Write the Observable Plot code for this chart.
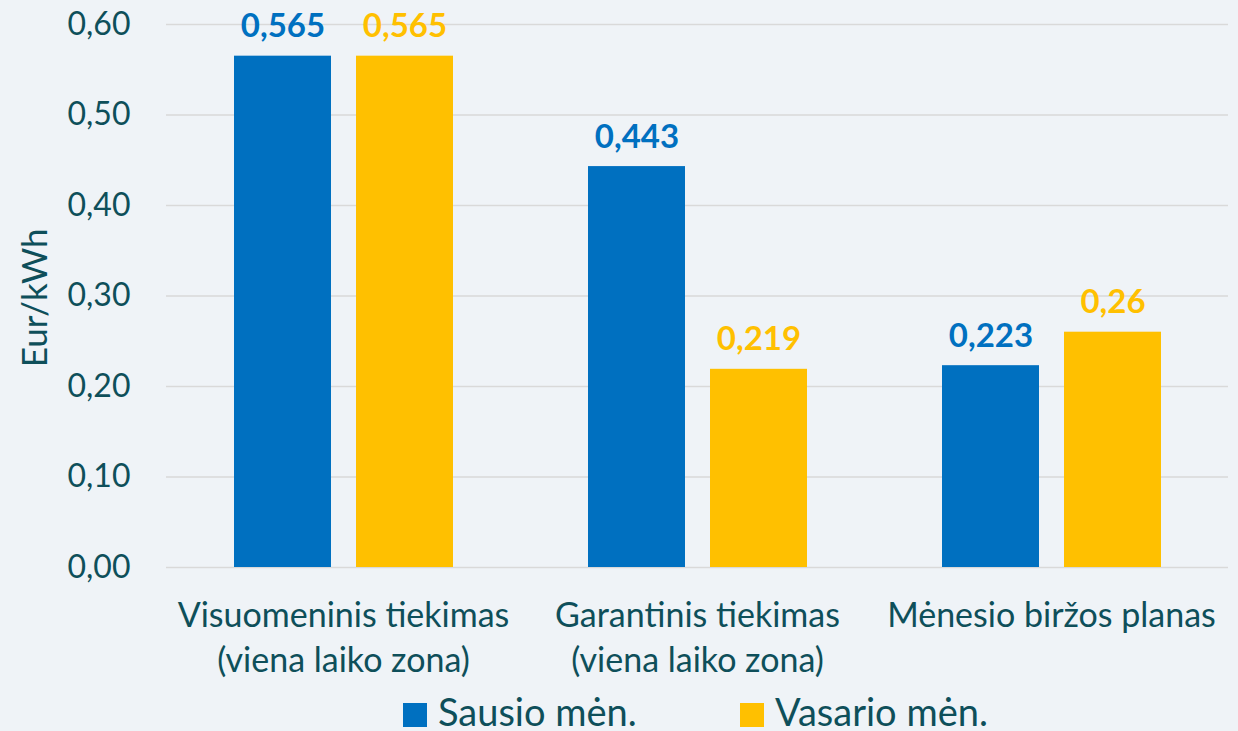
<!DOCTYPE html>
<html>
<head>
<meta charset="utf-8">
<script src="https://cdn.jsdelivr.net/npm/d3@7"></script>
<script src="https://cdn.jsdelivr.net/npm/@observablehq/plot@0.6"></script>
<style>
  html, body { margin: 0; padding: 0; background: #eff3f7; }
  body { width: 1238px; height: 731px; overflow: hidden; position: relative; font-family: Lato, "Open Sans", sans-serif; }
  .item { position: absolute; top: 692px; display: flex; align-items: flex-start; color: #0e4f5a; font-size: 38px; line-height: 38px; white-space: nowrap; }
  .sw { width: 24px; height: 24px; margin-top: 11px; margin-right: 11px; }
</style>
</head>
<body>
<div id="chart"></div>
<div id="legend"></div>
<script>
const categories = ["Visuomeninis tiekimas", "Garantinis tiekimas", "Mėnesio biržos planas"];
const categoryLabels = ["Visuomeninis tiekimas\n(viena laiko zona)", "Garantinis tiekimas\n(viena laiko zona)", "Mėnesio biržos planas"];
const seriesNames = ["Sausio mėn.", "Vasario mėn."];
const seriesColors = ["#0070c0", "#ffc000"];
const sausio = [0.565, 0.443, 0.223];
const vasario = [0.565, 0.219, 0.26];
const yTicks = [0, 0.1, 0.2, 0.3, 0.4, 0.5, 0.6];

const textColor = "#0e4f5a";
const data = [];
categories.forEach((c, i) => {
  data.push({cat: c, series: seriesNames[0], value: sausio[i]});
  data.push({cat: c, series: seriesNames[1], value: vasario[i]});
});
const fmtLabel = v => String(v).replace(".", ",");
const fmtTick = v => v.toFixed(2).replace(".", ",");

const plot = Plot.plot({
  width: 1238,
  height: 690,
  marginLeft: 165,
  marginRight: 10,
  marginTop: 24,
  marginBottom: 123,
  style: {background: "transparent", fontFamily: "Lato, 'Open Sans', sans-serif", color: textColor},
  fx: {domain: categories, padding: 0, axis: null},
  x: {domain: seriesNames, paddingInner: 0.205, paddingOuter: 0.553, axis: null},
  y: {domain: [0, 0.6]},
  color: {domain: seriesNames, range: seriesColors},
  marks: [
    Plot.gridY(yTicks, {stroke: "#d9d9d9", strokeOpacity: 1, strokeWidth: 1.5}),
    Plot.barY(data, {fx: "cat", x: "series", y: "value", fill: "series"}),
    Plot.text(data, {fx: "cat", x: "series", y: "value", text: d => fmtLabel(d.value), fill: "series",
      lineAnchor: "bottom", dy: -19, fontSize: 33, fontWeight: "bold"}),
    Plot.text(categories, {fx: d => d, text: (d, i) => categoryLabels[i], frameAnchor: "bottom",
      lineAnchor: "top", dy: 28, fontSize: 34, lineHeight: 1.32, fill: textColor}),
    Plot.axisY(yTicks, {tickSize: 0, tickPadding: 36, tickFormat: fmtTick, fontSize: 32, fill: textColor,
      label: null}),
    Plot.text(["Eur/kWh"], {y: () => 0.298, frameAnchor: "left", textAnchor: "middle", lineAnchor: "middle",
      dx: -131, rotate: -90, fontSize: 35, fill: textColor, facetAnchor: "left"})
  ]
});
document.getElementById("chart").appendChild(plot);

const legend = document.getElementById("legend");
const legendLefts = [403, 740];
seriesNames.forEach((s, i) => {
  const item = document.createElement("div");
  item.className = "item";
  item.style.left = legendLefts[i] + "px";
  const sw = document.createElement("div");
  sw.className = "sw";
  sw.style.background = seriesColors[i];
  const t = document.createElement("span");
  t.textContent = s;
  item.appendChild(sw);
  item.appendChild(t);
  legend.appendChild(item);
});
</script>
</body>
</html>
